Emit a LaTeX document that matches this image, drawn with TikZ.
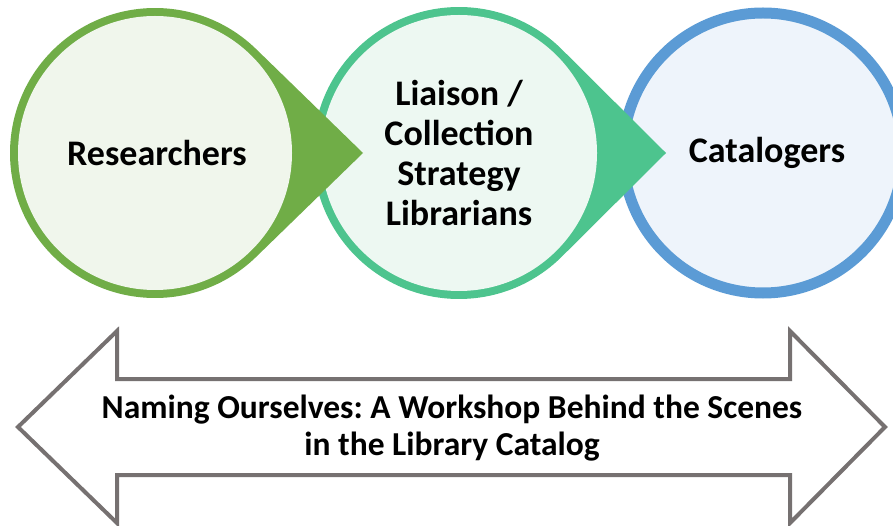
\documentclass[tikz,border=0pt]{standalone}
\usepackage{fontspec}
\setmainfont{Carlito}
\usepackage{xcolor}
\definecolor{ColA}{RGB}{112,173,71}
\definecolor{FillA}{RGB}{240,246,236}
\definecolor{ColB}{RGB}{77,196,142}
\definecolor{FillB}{RGB}{237,248,242}
\definecolor{ColC}{RGB}{91,155,213}
\definecolor{FillC}{RGB}{238,244,251}
\definecolor{ColD}{RGB}{118,113,113}
\frenchspacing
\tikzstyle{BubbleText}=[align=center,inner sep=0pt,
font=\bfseries\fontsize{36}{40}\selectfont]
\tikzstyle{BandText}=[align=center,inner sep=0pt,
font=\bfseries\fontsize{33.5}{37}\selectfont]
\tikzstyle{Band}=[draw=ColD,fill=white,line width=4pt,line join=miter]

\begin{document}
\begin{tikzpicture}[x=1pt,y=-1pt]
        \useasboundingbox (0,0) rectangle (893,526);
        % blue circle at the back
        \draw[ColC,fill=FillC,line width=11pt](763,153) circle[radius=140];
        % teal drop
        \fill[ColB](459,153) ++(45.2:146) arc[start angle=45.2,end angle=314.8,radius=146]
            -- (666,153) -- cycle;
        \fill[FillB](459,153) circle[radius=138];
        % green drop
        \fill[ColA](155,153) ++(45.8:145) arc[start angle=45.8,end angle=314.2,radius=145]
            -- (363,153) -- cycle;
        \fill[FillA](155,153) circle[radius=137];
        \node[BubbleText](res)at(157,153){Researchers};
        \node[BubbleText](lia)at(459,153){Liaison /\\Collection\\Strategy\\Librarians};
        \node[BubbleText](cat)at(767,153){Catalogers};
        % double arrow
        \draw[Band](18,427) -- (117,331) -- (117,379) -- (790,379) -- (790,331)
            -- (885,427) -- (790,523) -- (790,475) -- (117,475) -- (117,523) -- cycle;
        \node[BandText](ttl)at(452,428){Naming Ourselves: A Workshop Behind the Scenes\\in the Library Catalog};
    \end{tikzpicture}
\end{document}
